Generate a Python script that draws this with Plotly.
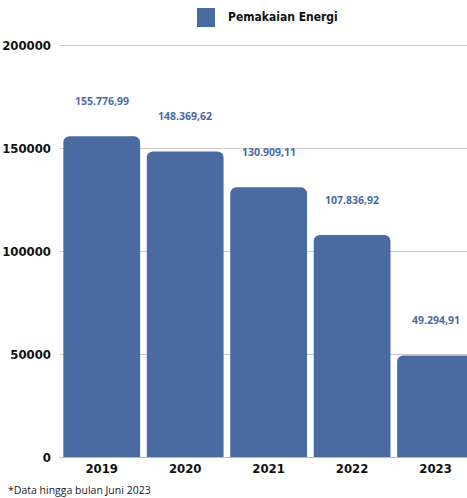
import plotly.graph_objects as go

# Annual energy usage
years = ["2019", "2020", "2021", "2022", "2023"]
energy = [155776.99, 148369.62, 130909.11, 107836.92, 49294.91]
value_labels = ["155.776,99", "148.369,62", "130.909,11", "107.836,92", "49.294,91"]
y_ticks = [0, 50000, 100000, 150000, 200000]
series_name = "Pemakaian Energi"
footnote = "*Data hingga bulan Juni 2023"

BAR = "#4a6ba1"
AXIS_FONT = "DejaVu Sans Condensed, Liberation Sans Narrow, sans-serif"
Y_MAX = 201000

fig = go.Figure()
fig.add_trace(go.Bar(
    x=years, y=energy, name=series_name,
    marker=dict(color=BAR, cornerradius=6, line=dict(width=0)),
    width=0.92, showlegend=False, hoverinfo="skip",
))

# value labels sitting above each bar (category index positions)
for i, (v, lab) in enumerate(zip(energy, value_labels)):
    fig.add_annotation(
        x=i, y=v, xref="x", yref="y", text="<b>" + lab + "</b>",
        showarrow=False, yshift=35,
        font=dict(family="Open Sans, sans-serif", size=10.5, color=BAR),
    )

# plot area spans from y=43 px (top) to y=457 px (zero line)
T, B = 43, 41
H = 498 - T - B


def py(pix):
    return (498 - B - pix) / H


# legend key drawn at the top
fig.add_shape(type="rect", xref="paper", yref="paper",
              x0=(197 - 60) / 407, x1=(215 - 60) / 407,
              y0=py(27), y1=py(8),
              fillcolor=BAR, line=dict(width=0))
fig.add_annotation(xref="paper", yref="paper",
                   x=(226 - 60) / 407, y=py(17),
                   xanchor="left", yanchor="middle", showarrow=False,
                   text="<b>" + series_name + "</b>",
                   font=dict(family=AXIS_FONT, size=12, color="#111111"))

fig.add_annotation(xref="paper", yref="paper",
                   x=(6 - 60) / 407, y=py(490),
                   xanchor="left", yanchor="middle", showarrow=False,
                   text=footnote,
                   font=dict(family="Open Sans, sans-serif", size=10.5, color="#222222"))

fig.update_layout(
    width=467, height=498,
    margin=dict(l=60, r=0, t=T, b=B),
    paper_bgcolor="white", plot_bgcolor="white",
    bargap=0.08,
    xaxis=dict(
        type="category",
        range=[-0.5, 4.377], showgrid=False, showline=False, zeroline=False,
        tickfont=dict(family=AXIS_FONT, size=13, color="#111111", weight="bold"),
        ticks="", ticklabelstandoff=2,
    ),
    yaxis=dict(
        range=[0, Y_MAX], tickvals=y_ticks, ticktext=[str(t) for t in y_ticks],
        showgrid=True, gridcolor="#cccccc", gridwidth=1,
        zeroline=True, zerolinecolor="#bbbbbb", zerolinewidth=1,
        showline=False, ticks="", ticklabelstandoff=8,
        tickfont=dict(family=AXIS_FONT, size=13, color="#111111", weight="bold"),
    ),
)

fig.write_html("out.html")
